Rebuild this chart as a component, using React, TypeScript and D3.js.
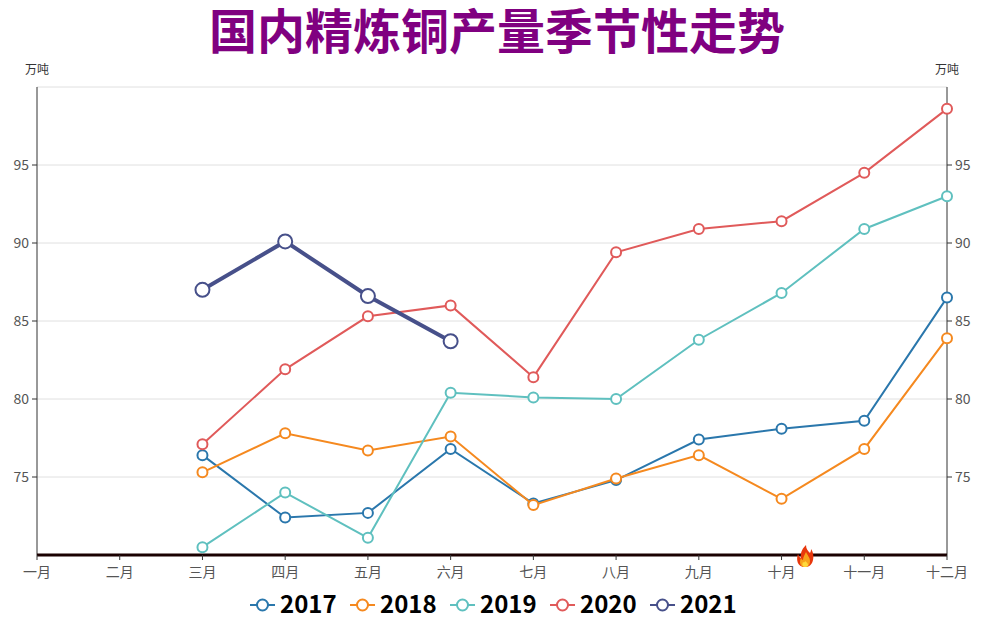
import React from "react";
import * as d3 from "d3";

const months = ["一月","二月","三月","四月","五月","六月","七月","八月","九月","十月","十一月","十二月"];
const yTicks = [75, 80, 85, 90, 95];
const gridTicks = [75, 80, 85, 90, 95, 100];
const seriesNames = ["2017","2018","2019","2020","2021"];
const colors = ["#2a77ac","#f5891f","#5fc0bf","#e05a5a","#47508a"];
const s2017: (number|null)[] = [null,null,76.4,72.4,72.7,76.8,73.3,74.8,77.4,78.1,78.6,86.5];
const s2018: (number|null)[] = [null,null,75.3,77.8,76.7,77.6,73.2,74.9,76.4,73.6,76.8,83.9];
const s2019: (number|null)[] = [null,null,70.5,74.0,71.1,80.4,80.1,80.0,83.8,86.8,90.9,93.0];
const s2020: (number|null)[] = [null,null,77.1,81.9,85.3,86.0,81.4,89.4,90.9,91.4,94.5,98.6];
const s2021: (number|null)[] = [null,null,87.0,90.1,86.6,83.7,null,null,null,null,null,null];
const allSeries = [s2017, s2018, s2019, s2020, s2021];

const W = 988, H = 620;
const left = 37, right = 947, top = 87, bottom = 555;

export default function App() {
  const x = d3.scalePoint<string>().domain(months).range([left, right]);
  const y = d3.scaleLinear().domain([70, 100]).range([bottom, top]);
  const font = "'Noto Sans CJK SC', 'Noto Sans', sans-serif";
  const line = d3.line<number|null>()
    .defined(d => d != null)
    .x((_, i) => x(months[i]) as number)
    .y(d => y(d as number));

  const legendItemW = [0, 1, 2, 3, 4];
  const legendStart = 250;
  const legendStep = 100;

  return (
    <svg width={W} height={H} style={{ position: "absolute", left: 0, top: 0 }} fontFamily={font}>
      <rect width={W} height={H} fill="#fff" />
      <text x={497} y={49} textAnchor="middle" fontSize={48} fontWeight={700} fill="#800080">国内精炼铜产量季节性走势</text>
      <text x={37} y={74} textAnchor="middle" fontSize={12} fill="#333">万吨</text>
      <text x={947} y={74} textAnchor="middle" fontSize={12} fill="#333">万吨</text>
      {gridTicks.map(t => (
        <line key={t} x1={left} x2={right} y1={y(t)} y2={y(t)} stroke="#e0e0e0" strokeWidth={1} />
      ))}
      <line x1={left} x2={left} y1={top} y2={bottom} stroke="#333" strokeWidth={1} />
      <line x1={right} x2={right} y1={top} y2={bottom} stroke="#333" strokeWidth={1} />
      {yTicks.map(t => (
        <g key={t}>
          <line x1={left - 5} x2={left} y1={y(t)} y2={y(t)} stroke="#333" />
          <text x={left - 8} y={y(t)} dy="0.35em" textAnchor="end" fontSize={14} fill="#555">{t}</text>
          <line x1={right} x2={right + 5} y1={y(t)} y2={y(t)} stroke="#333" />
          <text x={right + 8} y={y(t)} dy="0.35em" textAnchor="start" fontSize={14} fill="#555">{t}</text>
        </g>
      ))}
      <line x1={left} x2={right} y1={bottom} y2={bottom} stroke="#1a0000" strokeWidth={3} />
      {months.map(m => (
        <g key={m}>
          <line x1={x(m)} x2={x(m)} y1={bottom} y2={bottom + 5} stroke="#333" />
          <text x={x(m)} y={577} textAnchor="middle" fontSize={14} fill="#555">{m}</text>
        </g>
      ))}
      {allSeries.map((s, si) => {
        const isLast = si === 4;
        return (
          <g key={si}>
            <path d={line(s) || ""} fill="none" stroke={colors[si]} strokeWidth={isLast ? 4 : 2} />
            {s.map((v, i) => v == null ? null : (
              <circle key={i} cx={x(months[i])} cy={y(v)} r={isLast ? 7 : 5}
                fill="#fff" stroke={colors[si]} strokeWidth={2} />
            ))}
          </g>
        );
      })}
      {/* flame marker */}
      <g transform="translate(805,556)">
        <path d="M0,11 C-8,11 -9,3 -7,-2 C-6,1 -4,2 -4,2 C-5,-4 -2,-8 1,-11 C1,-7 3,-5 5,-3 C6,-5 6,-6 6,-7 C9,-3 9,3 7,7 C5,10 3,11 0,11 Z" fill="#e8380d" />
        <path d="M0,11 C-5,11 -6,6 -4,2 C-3,4 -2,4 -2,4 C-2,1 0,-2 1,-4 C2,-1 5,1 5,5 C5,9 3,11 0,11 Z" fill="#f7a21b" />
        <path d="M0,11 C-3,11 -3,8 -2,6 C-1,7 0,6 0,5 C2,6 3,8 3,9 C3,10 2,11 0,11 Z" fill="#ffd93b" />
      </g>
      {legendItemW.map(i => {
        const lx = legendStart + i * legendStep;
        const ly = 605;
        return (
          <g key={i}>
            <line x1={lx} x2={lx + 25} y1={ly} y2={ly} stroke={colors[i]} strokeWidth={2} />
            <circle cx={lx + 12.5} cy={ly} r={5.5} fill="#fff" stroke={colors[i]} strokeWidth={2} />
            <text x={lx + 30} y={ly} dy="0.35em" fontSize={24} fontWeight={700} fill="#000">{seriesNames[i]}</text>
          </g>
        );
      })}
    </svg>
  );
}
